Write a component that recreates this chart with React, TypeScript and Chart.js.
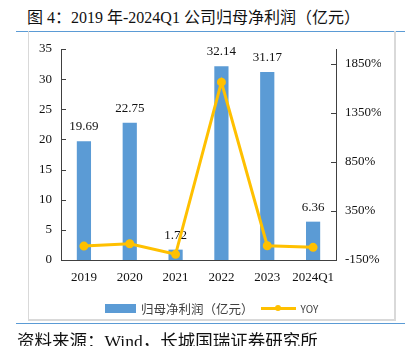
import React, { useEffect, useRef } from "react";
import { Chart, registerables } from "chart.js";

Chart.register(...registerables);

const categories = ["2019", "2020", "2021", "2022", "2023", "2024Q1"];
const profit = [19.69, 22.75, 1.72, 32.14, 31.17, 6.36];
const yoy = [-8, 16, -92, 1662, -5, -21];
const rightTicks = [-150, 350, 850, 1350, 1850];

const BAR = "#5B9BD5";
const LINE = "#FFC000";
const AXIS = "#404040";
const SERIF = "'Times New Roman', 'Liberation Serif', serif";
const SERIF_NOFALL = "'Times New Roman', 'Liberation Serif'";
const CJK = "'Noto Sans CJK SC', 'Noto Sans', sans-serif";

const customPlugin = {
  id: "custom",
  beforeDatasetsDraw(chart: any) {
    const ctx = chart.ctx;
    const meta = chart.getDatasetMeta(0);
    ctx.save();
    ctx.font = `13px ${SERIF}`;
    ctx.fillStyle = "#111";
    ctx.textAlign = "center";
    ctx.textBaseline = "bottom";
    meta.data.forEach((el: any, i: number) => {
      ctx.fillText(profit[i].toFixed(2), el.x, el.y - 8);
    });
    ctx.restore();
  },
  afterDraw(chart: any) {
    const ctx = chart.ctx;
    const yL = chart.scales.y;
    const yR = chart.scales.y1;
    ctx.save();
    ctx.strokeStyle = AXIS;
    ctx.lineWidth = 1;
    yL.ticks.forEach((t: any) => {
      const y = Math.round(yL.getPixelForValue(t.value)) + 0.5;
      ctx.beginPath();
      ctx.moveTo(yL.right, y);
      ctx.lineTo(yL.right + 5, y);
      ctx.stroke();
    });
    yR.ticks.forEach((t: any) => {
      const y = Math.round(yR.getPixelForValue(t.value)) + 0.5;
      ctx.beginPath();
      ctx.moveTo(yR.left, y);
      ctx.lineTo(yR.left - 5, y);
      ctx.stroke();
    });
    ctx.restore();
  },
};

export default function App() {
  const ref = useRef<HTMLCanvasElement | null>(null);

  useEffect(() => {
    if (!ref.current) return;
    const chart = new Chart(ref.current, {
      type: "bar",
      data: {
        labels: categories,
        datasets: [
          {
            type: "bar",
            label: "归母净利润（亿元）",
            data: profit,
            backgroundColor: BAR,
            borderWidth: 0,
            yAxisID: "y",
            barPercentage: 0.31,
            categoryPercentage: 1,
            order: 2,
          },
          {
            type: "line",
            label: "YOY",
            data: yoy,
            borderColor: LINE,
            backgroundColor: LINE,
            borderWidth: 3,
            pointRadius: 3,
            pointBackgroundColor: LINE,
            pointBorderColor: LINE,
            tension: 0,
            yAxisID: "y1",
            order: 1,
          },
        ],
      },
      options: {
        responsive: false,
        animation: false,
        devicePixelRatio: 1,
        layout: { padding: { left: 20, right: 24, top: 49, bottom: 0 } },
        plugins: {
          legend: { display: false },
          tooltip: { enabled: false },
          title: { display: false },
        },
        scales: {
          x: {
            grid: { display: false, drawTicks: false },
            border: { display: true, color: AXIS, width: 1 },
            ticks: { color: "#111", font: { family: SERIF, size: 13 }, padding: 10, maxRotation: 0, autoSkip: false },
            afterFit: (s: any) => {
              s.height = 86;
            },
          },
          y: {
            position: "left",
            min: 0,
            max: 35,
            grid: { display: false, drawTicks: false },
            border: { display: true, color: AXIS, width: 1 },
            ticks: { stepSize: 5, color: "#111", font: { family: SERIF, size: 13 }, padding: 9 },
            afterFit: (s: any) => {
              s.width = 41;
            },
          },
          y1: {
            position: "right",
            min: -150,
            max: 2000,
            grid: { display: false, drawTicks: false },
            border: { display: true, color: AXIS, width: 1 },
            afterBuildTicks: (s: any) => {
              s.ticks = rightTicks.map((v) => ({ value: v }));
            },
            ticks: {
              color: "#111",
              font: { family: SERIF, size: 13 },
              padding: 9,
              callback: (v: any) => `${v}%`,
            },
            afterFit: (s: any) => {
              s.width = 45;
            },
          },
        },
      },
      plugins: [customPlugin],
    });
    return () => chart.destroy();
  }, []);

  return (
    <div
      style={{
        position: "absolute",
        left: 0,
        top: 0,
        width: 405,
        height: 346,
        background: "#fff",
        overflow: "hidden",
      }}
    >
      <div
        style={{
          position: "absolute",
          left: 27,
          top: 8,
          fontFamily: `${SERIF_NOFALL}, ${CJK}`,
          fontSize: 16,
          lineHeight: "20px",
          color: "#111",
          whiteSpace: "nowrap",
        }}
      >
        图 4：2019 年-2024Q1 公司归母净利润（亿元）
      </div>
      <div style={{ position: "absolute", left: 16, top: 31, width: 389, height: 1, background: "#5B9BD5" }} />
      <div
        style={{
          position: "absolute",
          left: 28,
          top: 31,
          width: 365,
          height: 288,
          borderLeft: "1px solid #d9d9d9",
          borderRight: "2px solid #d9d9d9",
          borderBottom: "2px solid #d9d9d9",
        }}
      />
      <canvas
        ref={ref}
        width={405}
        height={346}
        style={{ position: "absolute", left: 0, top: 0, width: 405, height: 346 }}
      />
      <div
        style={{
          position: "absolute",
          left: 105,
          top: 298,
          height: 20,
          display: "flex",
          alignItems: "center",
          whiteSpace: "nowrap",
          color: "#404040",
        }}
      >
        <span style={{ display: "inline-block", width: 31, height: 9, background: BAR }} />
        <span style={{ marginLeft: 5, fontFamily: CJK, fontSize: 12.5 }}>归母净利润（亿元）</span>
        <span style={{ position: "relative", display: "inline-block", width: 35, height: 3, background: LINE, marginLeft: 7 }}>
          <span
            style={{
              position: "absolute",
              left: 14.5,
              top: -1.5,
              width: 6,
              height: 6,
              borderRadius: 3,
              background: LINE,
            }}
          />
        </span>
        <span style={{ marginLeft: 5, fontFamily: CJK, fontSize: 10 }}>YOY</span>
      </div>
      <div style={{ position: "absolute", left: 16, top: 323, width: 389, height: 1, background: "#5B9BD5" }} />
      <div
        style={{
          position: "absolute",
          left: 17,
          top: 330,
          fontFamily: `${SERIF_NOFALL}, ${CJK}`,
          fontSize: 17.5,
          lineHeight: "22px",
          color: "#111",
          whiteSpace: "nowrap",
        }}
      >
        资料来源：Wind，长城国瑞证券研究所
      </div>
    </div>
  );
}
